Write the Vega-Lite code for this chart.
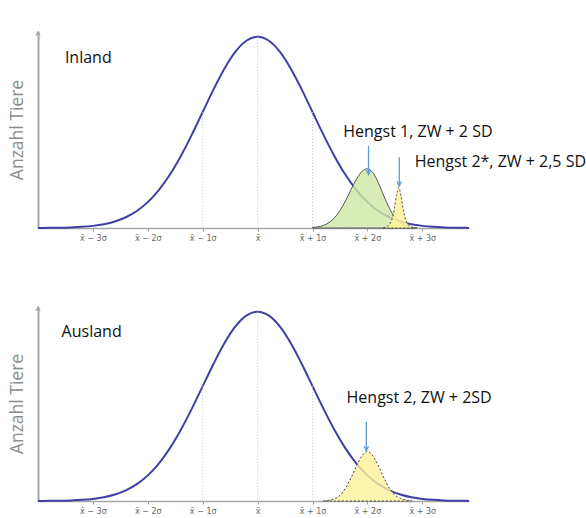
{
  "$schema": "https://vega.github.io/schema/vega-lite/v6.json",
  "padding": {"left": 8, "top": 31, "right": 0, "bottom": 0},
  "spacing": 64,
  "config": {
    "view": {"stroke": null},
    "font": "Open Sans",
    "axisX": {
      "labelFont": "DejaVu Sans",
      "labelFontSize": 8,
      "labelColor": "#666666",
      "labelPadding": 3,
      "tickSize": 3,
      "tickColor": "#9a9a9a",
      "domainColor": "#a6a6a6",
      "domainWidth": 1.5,
      "grid": false,
      "title": null
    },
    "axisY": {
      "labels": false,
      "ticks": false,
      "grid": false,
      "domainColor": "#a6a6a6",
      "domainWidth": 2,
      "titleFont": "Open Sans",
      "titleFontSize": 17.5,
      "titleFontWeight": "normal",
      "titleColor": "#8c8c8c",
      "titlePadding": 12
    }
  },
  "datasets": {
    "main": [
      {"x": -4.0, "y": 0.0003}, {"x": -3.8, "y": 0.0007}, {"x": -3.6, "y": 0.0015}, {"x": -3.4, "y": 0.0031},
      {"x": -3.2, "y": 0.006}, {"x": -3.0, "y": 0.0111}, {"x": -2.8, "y": 0.0198}, {"x": -2.6, "y": 0.034},
      {"x": -2.4, "y": 0.0561}, {"x": -2.2, "y": 0.0889}, {"x": -2.0, "y": 0.1353}, {"x": -1.8, "y": 0.1979},
      {"x": -1.6, "y": 0.278}, {"x": -1.4, "y": 0.3753}, {"x": -1.2, "y": 0.4868}, {"x": -1.0, "y": 0.6065},
      {"x": -0.8, "y": 0.7261}, {"x": -0.6, "y": 0.8353}, {"x": -0.4, "y": 0.9231}, {"x": -0.2, "y": 0.9802},
      {"x": 0.0, "y": 1.0}, {"x": 0.2, "y": 0.9802}, {"x": 0.4, "y": 0.9231}, {"x": 0.6, "y": 0.8353},
      {"x": 0.8, "y": 0.7261}, {"x": 1.0, "y": 0.6065}, {"x": 1.2, "y": 0.4868}, {"x": 1.4, "y": 0.3753},
      {"x": 1.6, "y": 0.278}, {"x": 1.8, "y": 0.1979}, {"x": 2.0, "y": 0.1353}, {"x": 2.2, "y": 0.0889},
      {"x": 2.4, "y": 0.0561}, {"x": 2.6, "y": 0.034}, {"x": 2.8, "y": 0.0198}, {"x": 3.0, "y": 0.0111},
      {"x": 3.2, "y": 0.006}, {"x": 3.4, "y": 0.0031}, {"x": 3.6, "y": 0.0015}, {"x": 3.8, "y": 0.0007},
      {"x": 3.85, "y": 0.0006}
    ],
    "grid": [
      {"x": -1, "y": 0.6065}, {"x": 0, "y": 1.0}, {"x": 1, "y": 0.6065}
    ],
    "green": [
      {"x": 1.0, "y": 0.0023}, {"x": 1.1, "y": 0.0059}, {"x": 1.2, "y": 0.0136}, {"x": 1.3, "y": 0.0283},
      {"x": 1.4, "y": 0.0534}, {"x": 1.5, "y": 0.0915}, {"x": 1.6, "y": 0.142}, {"x": 1.7, "y": 0.2},
      {"x": 1.8, "y": 0.255}, {"x": 1.9, "y": 0.295}, {"x": 2.0, "y": 0.31}, {"x": 2.1, "y": 0.289},
      {"x": 2.2, "y": 0.236}, {"x": 2.3, "y": 0.167}, {"x": 2.4, "y": 0.1035}, {"x": 2.5, "y": 0.0558},
      {"x": 2.6, "y": 0.0263}, {"x": 2.7, "y": 0.0108}, {"x": 2.8, "y": 0.0038}, {"x": 2.9, "y": 0.001}
    ],
    "yellowTop": [
      {"x": 2.29, "y": 0.001}, {"x": 2.33, "y": 0.004}, {"x": 2.37, "y": 0.01}, {"x": 2.41, "y": 0.022},
      {"x": 2.45, "y": 0.048}, {"x": 2.49, "y": 0.1}, {"x": 2.53, "y": 0.17}, {"x": 2.57, "y": 0.212},
      {"x": 2.61, "y": 0.17}, {"x": 2.65, "y": 0.1}, {"x": 2.69, "y": 0.048}, {"x": 2.73, "y": 0.022},
      {"x": 2.77, "y": 0.01}, {"x": 2.81, "y": 0.004}, {"x": 2.85, "y": 0.001}
    ],
    "yellowBottom": [
      {"x": 1.2, "y": 0.001}, {"x": 1.3, "y": 0.004}, {"x": 1.4, "y": 0.012}, {"x": 1.5, "y": 0.03},
      {"x": 1.6, "y": 0.068}, {"x": 1.7, "y": 0.122}, {"x": 1.8, "y": 0.185}, {"x": 1.9, "y": 0.238},
      {"x": 2.0, "y": 0.262}, {"x": 2.1, "y": 0.238}, {"x": 2.2, "y": 0.185}, {"x": 2.3, "y": 0.122},
      {"x": 2.4, "y": 0.068}, {"x": 2.5, "y": 0.032}, {"x": 2.6, "y": 0.014}, {"x": 2.7, "y": 0.005},
      {"x": 2.8, "y": 0.001}
    ],
    "arrowsTop": [
      {"x": 2.02, "top": 0.43, "tip": 0.28},
      {"x": 2.58, "top": 0.37, "tip": 0.22}
    ],
    "arrowsBottom": [
      {"x": 1.98, "top": 0.417, "tip": 0.266}
    ],
    "textTop": [
      {"x": -3.51, "y": 0.889, "label": "Inland"},
      {"x": 1.56, "y": 0.5, "label": "Hengst 1, ZW + 2 SD"},
      {"x": 2.86, "y": 0.347, "label": "Hengst 2*, ZW + 2,5 SD"}
    ],
    "textBottom": [
      {"x": -3.57, "y": 0.893, "label": "Ausland"},
      {"x": 1.62, "y": 0.544, "label": "Hengst 2, ZW + 2SD"}
    ],
    "axisTip": [
      {"x": -4.0, "y": 1.03}
    ]
  },
  "vconcat": [
    {
      "width": 431,
      "height": 197,
      "layer": [
        {
          "data": {"name": "main"},
          "mark": {"type": "line", "color": "#3f3fa5", "strokeWidth": 2, "interpolate": "monotone"},
          "encoding": {
            "x": {"field": "x", "type": "quantitative", "scale": {"domain": [-4, 3.85], "nice": false, "zero": false},
              "axis": {"values": [-3, -2, -1, 0, 1, 2, 3], "labelExpr": "datum.value == 0 ? 'x̄' : 'x̄ ' + (datum.value < 0 ? '−' : '+') + ' ' + abs(datum.value) + 'σ'"}},
            "y": {"field": "y", "type": "quantitative", "scale": {"domain": [0, 1.03], "nice": false}, "axis": {"title": "Anzahl Tiere"}}
          }
        },
        {
          "data": {"name": "grid"},
          "mark": {"type": "rule", "color": "#c8c8c8", "strokeWidth": 1, "strokeDash": [1, 2]},
          "encoding": {
            "x": {"field": "x", "type": "quantitative"},
            "y": {"field": "y", "type": "quantitative"},
            "y2": {"datum": 0}
          }
        },
        {
          "data": {"name": "green"},
          "mark": {"type": "area", "fill": "#cfe7a6", "fillOpacity": 0.8, "stroke": "#555555", "strokeWidth": 1, "interpolate": "monotone"},
          "encoding": {
            "x": {"field": "x", "type": "quantitative"},
            "y": {"field": "y", "type": "quantitative"}
          }
        },
        {
          "data": {"name": "yellowTop"},
          "mark": {"type": "area", "fill": "#fdf39a", "fillOpacity": 0.85, "stroke": "#444444", "strokeWidth": 1, "strokeDash": [2, 2], "interpolate": "monotone"},
          "encoding": {
            "x": {"field": "x", "type": "quantitative"},
            "y": {"field": "y", "type": "quantitative"}
          }
        },
        {
          "data": {"name": "arrowsTop"},
          "mark": {"type": "rule", "color": "#5b9bd5", "strokeWidth": 1.3},
          "encoding": {
            "x": {"field": "x", "type": "quantitative"},
            "y": {"field": "top", "type": "quantitative"},
            "y2": {"field": "tip"}
          }
        },
        {
          "data": {"name": "arrowsTop"},
          "mark": {"type": "point", "shape": "M-0.8,-1.6L0,0L0.8,-1.6", "filled": false, "stroke": "#5b9bd5", "strokeWidth": 1.3, "size": 30, "opacity": 1},
          "encoding": {
            "x": {"field": "x", "type": "quantitative"},
            "y": {"field": "tip", "type": "quantitative"}
          }
        },
        {
          "data": {"name": "axisTip"},
          "mark": {"type": "point", "shape": "M-1,1.6L0,0L1,1.6Z", "filled": true, "color": "#a6a6a6", "size": 30, "opacity": 1},
          "encoding": {
            "x": {"field": "x", "type": "quantitative"},
            "y": {"field": "y", "type": "quantitative"}
          }
        },
        {
          "data": {"name": "textTop"},
          "mark": {"type": "text", "align": "left", "baseline": "middle", "font": "Open Sans", "fontSize": 16, "color": "#111111"},
          "encoding": {
            "x": {"field": "x", "type": "quantitative"},
            "y": {"field": "y", "type": "quantitative"},
            "text": {"field": "label"}
          }
        }
      ]
    },
    {
      "width": 431,
      "height": 195,
      "layer": [
        {
          "data": {"name": "main"},
          "mark": {"type": "line", "color": "#3f3fa5", "strokeWidth": 2, "interpolate": "monotone"},
          "encoding": {
            "x": {"field": "x", "type": "quantitative", "scale": {"domain": [-4, 3.85], "nice": false, "zero": false},
              "axis": {"values": [-3, -2, -1, 0, 1, 2, 3], "labelExpr": "datum.value == 0 ? 'x̄' : 'x̄ ' + (datum.value < 0 ? '−' : '+') + ' ' + abs(datum.value) + 'σ'"}},
            "y": {"field": "y", "type": "quantitative", "scale": {"domain": [0, 1.03], "nice": false}, "axis": {"title": "Anzahl Tiere"}}
          }
        },
        {
          "data": {"name": "grid"},
          "mark": {"type": "rule", "color": "#c8c8c8", "strokeWidth": 1, "strokeDash": [1, 2]},
          "encoding": {
            "x": {"field": "x", "type": "quantitative"},
            "y": {"field": "y", "type": "quantitative"},
            "y2": {"datum": 0}
          }
        },
        {
          "data": {"name": "yellowBottom"},
          "mark": {"type": "area", "fill": "#fdf39a", "fillOpacity": 0.8, "stroke": "#444444", "strokeWidth": 1, "strokeDash": [2, 2], "interpolate": "monotone"},
          "encoding": {
            "x": {"field": "x", "type": "quantitative"},
            "y": {"field": "y", "type": "quantitative"}
          }
        },
        {
          "data": {"name": "arrowsBottom"},
          "mark": {"type": "rule", "color": "#5b9bd5", "strokeWidth": 1.3},
          "encoding": {
            "x": {"field": "x", "type": "quantitative"},
            "y": {"field": "top", "type": "quantitative"},
            "y2": {"field": "tip"}
          }
        },
        {
          "data": {"name": "arrowsBottom"},
          "mark": {"type": "point", "shape": "M-0.8,-1.6L0,0L0.8,-1.6", "filled": false, "stroke": "#5b9bd5", "strokeWidth": 1.3, "size": 30, "opacity": 1},
          "encoding": {
            "x": {"field": "x", "type": "quantitative"},
            "y": {"field": "tip", "type": "quantitative"}
          }
        },
        {
          "data": {"name": "axisTip"},
          "mark": {"type": "point", "shape": "M-1,1.6L0,0L1,1.6Z", "filled": true, "color": "#a6a6a6", "size": 30, "opacity": 1},
          "encoding": {
            "x": {"field": "x", "type": "quantitative"},
            "y": {"field": "y", "type": "quantitative"}
          }
        },
        {
          "data": {"name": "textBottom"},
          "mark": {"type": "text", "align": "left", "baseline": "middle", "font": "Open Sans", "fontSize": 16, "color": "#111111"},
          "encoding": {
            "x": {"field": "x", "type": "quantitative"},
            "y": {"field": "y", "type": "quantitative"},
            "text": {"field": "label"}
          }
        }
      ]
    }
  ]
}
